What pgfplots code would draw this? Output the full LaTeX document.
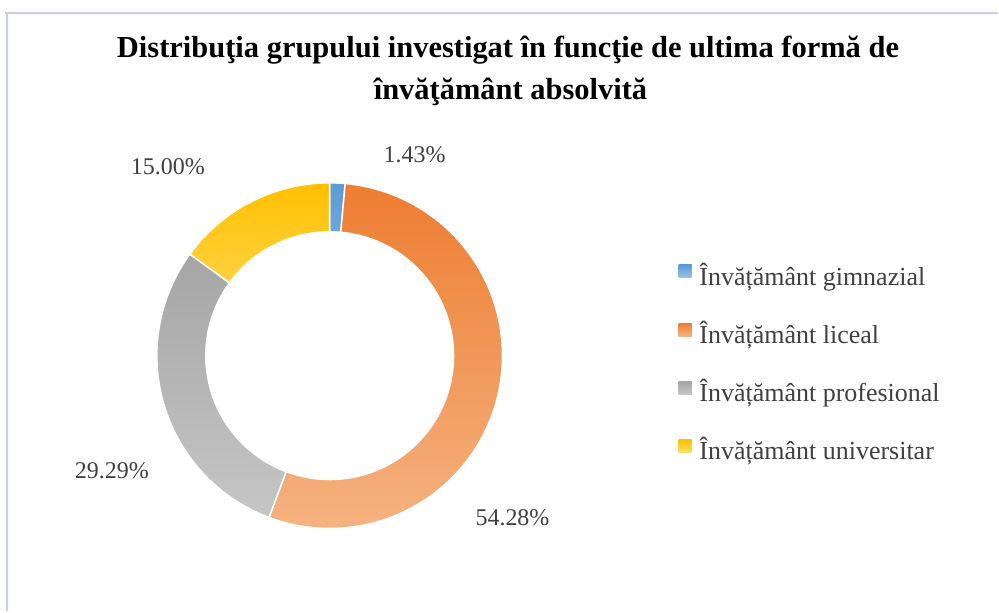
\documentclass[border=0pt]{standalone}
\usepackage{pgfplots}
\pgfplotsset{compat=1.18}
\usepackage{pgfplotstable}
\usepackage{fontspec}
\setmainfont{Liberation Serif}
\definecolor{txt}{HTML}{404040}
\definecolor{frame}{HTML}{C9CBF2}
\pgfplotstableread{
name value
gimnazial 1.43
liceal 54.28
profesional 29.29
universitar 15.00
}\data
\pgfplotstablegetelem{0}{value}\of\data \let\va\pgfplotsretval
\pgfplotstablegetelem{1}{value}\of\data \let\vb\pgfplotsretval
\pgfplotstablegetelem{2}{value}\of\data \let\vc\pgfplotsretval
\pgfplotstablegetelem{3}{value}\of\data \let\vd\pgfplotsretval
\pgfmathsetmacro\aA{90}
\pgfmathsetmacro\aB{90-3.6*\va}
\pgfmathsetmacro\aC{\aB-3.6*\vb}
\pgfmathsetmacro\aD{\aC-3.6*\vc}
\pgfmathsetmacro\aE{\aD-3.6*\vd}
\def\cx{330}\def\cy{256}\def\R{173}\def\r{124}
\begin{document}
\begin{tikzpicture}
\begin{axis}[
  scale only axis, width=999bp, height=612bp,
  xmin=0, xmax=999, ymin=0, ymax=612,
  hide axis, clip=false,
  legend style={at={(axis cs:676,353)}, anchor=north west, draw=none, fill=none,
    font=\fontsize{26bp}{30bp}\selectfont\color{txt}, row sep=30.5bp},
  legend cell align=left,
  legend image code/.code={\path[#1, draw=none] (0bp,-3bp) rectangle (13bp,10bp); \path[draw=none, fill=none, shade=false] (0bp,0bp) (19bp,0bp);},
]
\fill[white] (axis cs:0,0) rectangle (axis cs:999,612);
\draw[frame, line width=2bp] (axis cs:5,599) -- (axis cs:999,599);
\draw[frame, line width=2bp] (axis cs:7,599) -- (axis cs:7,0);

\addplot[top color={rgb,255:red,91;green,155;blue,213}, bottom color={rgb,255:red,157;green,195;blue,230}, draw=white, line width=1.5bp, domain=\aB:\aA, samples=10, variable=\t]
  ({\cx+\R*cos(\t)},{\cy+\R*sin(\t)}) -- (axis cs:\cx,\cy) -- cycle;
\addlegendentry{Învățământ gimnazial}
\addplot[top color={rgb,255:red,237;green,125;blue,49}, bottom color={rgb,255:red,245;green,178;blue,128}, draw=white, line width=1.5bp, domain=\aC:\aB, samples=120, variable=\t]
  ({\cx+\R*cos(\t)},{\cy+\R*sin(\t)}) -- (axis cs:\cx,\cy) -- cycle;
\addlegendentry{Învățământ liceal}
\addplot[top color={rgb,255:red,165;green,165;blue,165}, bottom color={rgb,255:red,198;green,198;blue,198}, draw=white, line width=1.5bp, domain=\aD:\aC, samples=80, variable=\t]
  ({\cx+\R*cos(\t)},{\cy+\R*sin(\t)}) -- (axis cs:\cx,\cy) -- cycle;
\addlegendentry{Învățământ profesional}
\addplot[top color={rgb,255:red,255;green,192;blue,0}, bottom color={rgb,255:red,255;green,222;blue,110}, draw=white, line width=1.5bp, domain=\aE:\aD, samples=50, variable=\t]
  ({\cx+\R*cos(\t)},{\cy+\R*sin(\t)}) -- (axis cs:\cx,\cy) -- cycle;
\addlegendentry{Învățământ universitar}
\addplot[fill=white, draw=white, line width=1.5bp, domain=0:360, samples=150, forget plot, variable=\t]
  ({\cx+\r*cos(\t)},{\cy+\r*sin(\t)});

\node[font=\fontsize{30.5bp}{35bp}\selectfont\bfseries, anchor=base] at (axis cs:508.5,554) {Distribuţia grupului investigat în funcţie de ultima formă de};
\node[font=\fontsize{30.5bp}{35bp}\selectfont\bfseries, anchor=base] at (axis cs:511,512) {învăţământ absolvită};
\node[font=\fontsize{24bp}{28bp}\selectfont, text=txt] at (axis cs:415,457) {1.43\%};
\node[font=\fontsize{24bp}{28bp}\selectfont, text=txt] at (axis cs:513,94) {54.28\%};
\node[font=\fontsize{24bp}{28bp}\selectfont, text=txt] at (axis cs:112,141) {29.29\%};
\node[font=\fontsize{24bp}{28bp}\selectfont, text=txt] at (axis cs:168,445) {15.00\%};
\end{axis}
\end{tikzpicture}
\end{document}
